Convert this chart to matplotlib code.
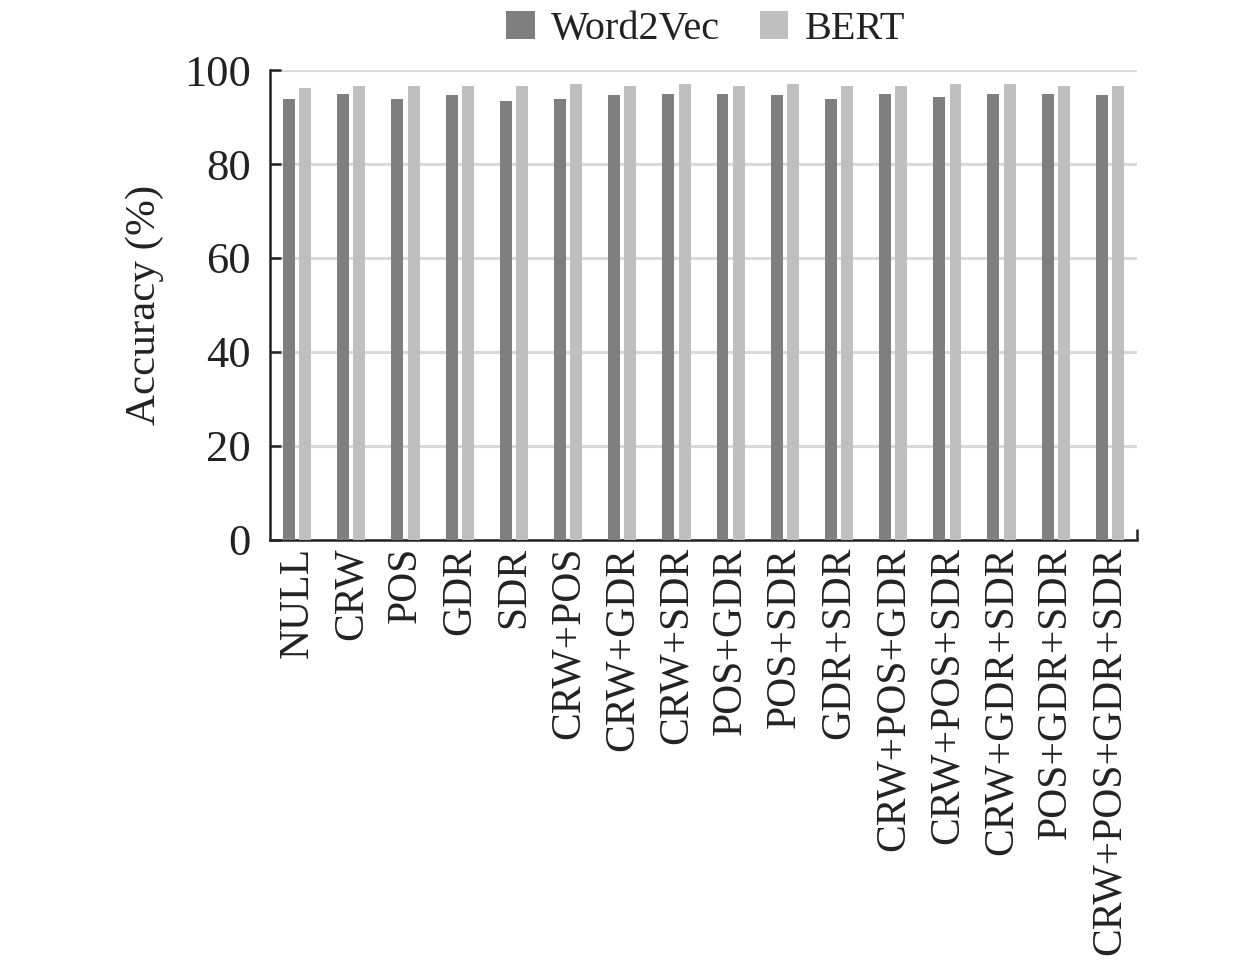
import matplotlib.pyplot as plt
import numpy as np

categories = ['NULL', 'CRW', 'POS', 'GDR', 'SDR', 'CRW+POS', 'CRW+GDR',
              'CRW+SDR', 'POS+GDR', 'POS+SDR', 'GDR+SDR', 'CRW+POS+GDR',
              'CRW+POS+SDR', 'CRW+GDR+SDR', 'POS+GDR+SDR', 'CRW+POS+GDR+SDR']
word2vec = [93.8, 95.0, 93.8, 94.6, 93.4, 93.8, 94.6, 95.0,
            95.0, 94.6, 93.8, 95.0, 94.2, 95.0, 95.0, 94.6]
bert = [96.1, 96.6, 96.6, 96.6, 96.6, 97.0, 96.6, 97.0,
        96.6, 97.0, 96.6, 96.6, 97.0, 97.0, 96.6, 96.6]


def main():
    plt.rcParams['font.family'] = ['Liberation Serif', 'DejaVu Serif']
    text_color = '#222222'

    fig = plt.figure(figsize=(12.6, 9.67), dpi=100)
    ax = fig.add_axes([0.2143, 0.4416, 0.6881, 0.486])

    x = np.arange(len(categories))
    w = 0.22
    ax.bar(x - 0.15, word2vec, w, color='#7f7f7f', label='Word2Vec', zorder=3)
    ax.bar(x + 0.15, bert, w, color='#bfbfbf', label='BERT', zorder=3)

    ax.set_xlim(-0.5, len(categories) - 0.5)
    ax.set_ylim(0, 100)
    ax.set_yticks(range(0, 101, 20))
    ax.yaxis.grid(True, color='#d9d9d9', linewidth=2.2, zorder=0)
    ax.set_axisbelow(True)

    ax.set_xticks(x)
    ax.set_xticklabels(categories, rotation=90, fontsize=30, color=text_color)
    ax.tick_params(axis='x', which='major', length=0, pad=5)
    # little tick at the right end of the axis
    ax.set_xticks([len(categories) - 0.5], minor=True)
    ax.tick_params(axis='x', which='minor', direction='in', length=8,
                   width=1.8, color='#222222')
    ax.tick_params(axis='y', direction='in', length=8, width=1.8,
                   labelsize=32, labelcolor=text_color, pad=14,
                   color='#222222')

    for s in ['top', 'right']:
        ax.spines[s].set_visible(False)
    for s in ['left', 'bottom']:
        ax.spines[s].set_linewidth(1.8)
        ax.spines[s].set_color('#222222')

    ax.set_ylabel('Accuracy (%)', fontsize=31, color=text_color, labelpad=14)

    fig.legend(loc='upper center', bbox_to_anchor=(0.56, 1.026), ncol=2,
               frameon=False, fontsize=29, handlelength=0.7, handleheight=0.7,
               handletextpad=0.4, columnspacing=1.0, labelcolor=text_color)

    fig.savefig('out.png', dpi=100)


if __name__ == "__main__":
    main()
